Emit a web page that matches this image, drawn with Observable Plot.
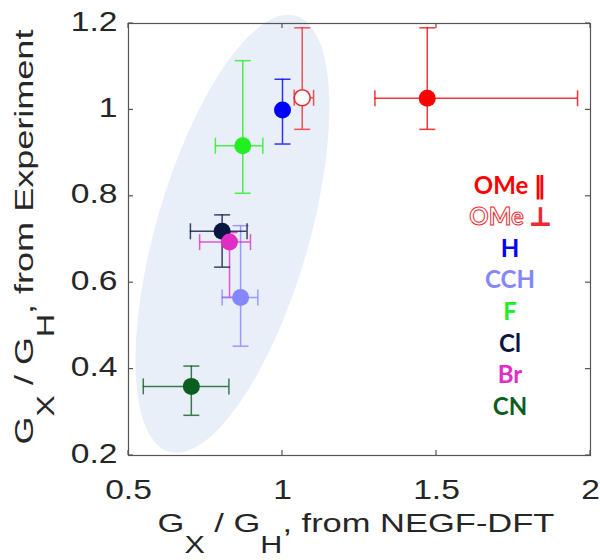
<!DOCTYPE html>
<html><head><meta charset="utf-8">
<script src="https://cdn.jsdelivr.net/npm/d3@7"></script>
<script src="https://cdn.jsdelivr.net/npm/@observablehq/plot@0.6"></script>
<style>body{margin:0;background:#fff}</style>
</head><body><div id="chart"></div>
<script>
// ---- data ----
const labels = ["OMe ∥", "OMe ⊥", "H", "CCH", "F", "Cl", "Br", "CN"];
const colors = ["#ff0000", "#ee2a30", "#0000ff", "#8585ff", "#22ee22", "#0c1540", "#e22cc6", "#0b5e1f"];
const filled = [true, false, true, true, true, true, true, true];
const xVal  = [1.470, 1.064, 1.000, 0.864, 0.871, 0.804, 0.828, 0.704];
const yVal  = [1.027, 1.028, 1.000, 0.566, 0.917, 0.719, 0.694, 0.360];
const xLow  = [1.300, 1.038, null, 0.804, 0.782, 0.701, 0.731, 0.548];
const xHigh = [1.958, 1.101, null, 0.920, 0.936, 0.885, 0.896, 0.826];
const yLow  = [0.955, 0.955, 0.921, 0.453, 0.807, 0.636, 0.566, 0.293];
const yHigh = [1.190, 1.190, 1.071, 0.732, 1.114, 0.757, 0.716, 0.407];
const xTicks = [0.5, 1, 1.5, 2];
const xTickLabels = ["0.5", "1", "1.5", "2"];
const yTicks = [0.2, 0.4, 0.6, 0.8, 1, 1.2];
const yTickLabels = ["0.2", "0.4", "0.6", "0.8", "1", "1.2"];
const ellipseCenter = [0.839, 0.712];

const rows = labels.map((l, i) => ({
  label: l, color: colors[i], filled: filled[i],
  x: xVal[i], y: yVal[i], xLow: xLow[i], xHigh: xHigh[i], yLow: yLow[i], yHigh: yHigh[i]
}));
const hRows = rows.filter(d => d.xLow != null);

const SVGNS = "http://www.w3.org/2000/svg";
const hCap = {draw(ctx, size) { const r = Math.sqrt(size / Math.PI); ctx.moveTo(-r, 0); ctx.lineTo(r, 0); }};
const vCap = {draw(ctx, size) { const r = Math.sqrt(size / Math.PI); ctx.moveTo(0, -r); ctx.lineTo(0, r); }};

function ellipseMark(index, scales) {
  const cx = scales.x(ellipseCenter[0]), cy = scales.y(ellipseCenter[1]);
  const e = document.createElementNS(SVGNS, "ellipse");
  e.setAttribute("cx", 0); e.setAttribute("cy", 0);
  e.setAttribute("rx", 76.4); e.setAttribute("ry", 227);
  e.setAttribute("transform", `translate(${cx},${cy}) rotate(16.2)`);
  e.setAttribute("fill", "#e9eff8");
  return e;
}

function inwardTicks(index, scales, values, dims) {
  const g = document.createElementNS(SVGNS, "g");
  const L = dims.marginLeft, R = dims.width - dims.marginRight;
  const T = dims.marginTop, B = dims.height - dims.marginBottom;
  const len = 5;
  const add = (x1, y1, x2, y2) => {
    const l = document.createElementNS(SVGNS, "line");
    l.setAttribute("x1", x1); l.setAttribute("y1", y1);
    l.setAttribute("x2", x2); l.setAttribute("y2", y2);
    l.setAttribute("stroke", "#555"); l.setAttribute("stroke-width", 1.2);
    g.appendChild(l);
  };
  xTicks.forEach(t => { const x = scales.x(t); add(x, B, x, B - len); add(x, T, x, T + len); });
  yTicks.forEach(t => { const y = scales.y(t); add(L, y, L + len, y); add(R, y, R - len, y); });
  return g;
}

const plot = Plot.plot({
  width: 600, height: 560,
  marginLeft: 128, marginRight: 10, marginTop: 23, marginBottom: 105,
  style: {fontFamily: "'Liberation Sans', Arial, sans-serif", color: "#262626", background: "white", overflow: "visible"},
  x: {domain: [0.5, 2]},
  y: {domain: [0.2, 1.2]},
  color: {type: "identity"},
  marks: [
    ellipseMark,
    Plot.frame({stroke: "#555", strokeWidth: 1.2}),
    inwardTicks,
    Plot.axisX(xTicks, {tickSize: 0, tickPadding: 43, fontSize: 28, label: null,
      tickFormat: d => xTickLabels[xTicks.indexOf(d)]}),
    Plot.axisY(yTicks, {tickSize: 0, tickPadding: 11, fontSize: 28, label: null,
      tickFormat: d => yTickLabels[yTicks.indexOf(d)]}),
    // vertical error bars
    Plot.ruleX(rows, {x: "x", y1: "yLow", y2: "yHigh", stroke: "color", strokeWidth: 1.5, strokeOpacity: 0.8}),
    Plot.dot(rows, {x: "x", y: "yLow", symbol: hCap, r: 8, stroke: "color", fill: "none", strokeWidth: 1.5, strokeOpacity: 0.8}),
    Plot.dot(rows, {x: "x", y: "yHigh", symbol: hCap, r: 8, stroke: "color", fill: "none", strokeWidth: 1.5, strokeOpacity: 0.8}),
    // horizontal error bars
    Plot.ruleY(hRows, {y: "y", x1: "xLow", x2: "xHigh", stroke: "color", strokeWidth: 1.5, strokeOpacity: 0.8}),
    Plot.dot(hRows, {x: "xLow", y: "y", symbol: vCap, r: 8, stroke: "color", fill: "none", strokeWidth: 1.5, strokeOpacity: 0.8}),
    Plot.dot(hRows, {x: "xHigh", y: "y", symbol: vCap, r: 8, stroke: "color", fill: "none", strokeWidth: 1.5, strokeOpacity: 0.8}),
    // markers
    Plot.dot(rows.filter(d => d.filled), {x: "x", y: "y", r: 8.5, fill: "color", stroke: "none"}),
    Plot.dot(rows.filter(d => !d.filled), {x: "x", y: "y", r: 8, fill: "white", stroke: "color", strokeWidth: 1.6})
  ]
});
document.getElementById("chart").appendChild(plot);

const svg = d3.select(plot);

// stretch tick labels horizontally (the source font is wide)
function stretch(sel, k, dyExtra) {
  sel.each(function () {
    const x = +this.getAttribute("x") || 0, y = (+this.getAttribute("y") || 0) + dyExtra;
    const tr = this.getAttribute("transform") || "";
    this.removeAttribute("x"); this.removeAttribute("y");
    this.setAttribute("transform", `${tr} translate(${x},${y}) scale(${k},1)`);
  });
}
stretch(svg.selectAll('g[aria-label="x-axis tick label"] text'), 1.2, 0);
stretch(svg.selectAll('g[aria-label="y-axis tick label"] text'), 1.2, 7);

// axis titles with subscripts
function axisTitle(tx, ty, rot, targetLen, tail) {
  const t = svg.append("text")
    .attr("text-anchor", "middle")
    .style("font-family", "'Liberation Sans', Arial, sans-serif")
    .style("font-size", "26px")
    .attr("fill", "#262626");
  t.append("tspan").text("G");
  t.append("tspan").attr("dy", 21).style("font-size", "23px").text("X");
  t.append("tspan").attr("dy", -21).text(" / G");
  t.append("tspan").attr("dy", 21).style("font-size", "23px").text("H");
  t.append("tspan").attr("dy", -21).text(tail);
  const len = t.node().getComputedTextLength();
  t.attr("transform", `translate(${tx},${ty}) rotate(${rot}) scale(${targetLen / len},1)`);
}
axisTitle(356, 532, 0, 397, ", from NEGF-DFT");
axisTitle(33, 237, -90, 415, ", from Experiment");

// in-plot labels
const legendY0 = 185, legendStep = 31.6;
labels.forEach((l, i) => {
  const t = svg.append("text")
    .attr("x", 510).attr("y", legendY0 + i * legendStep)
    .attr("dy", "0.36em")
    .attr("text-anchor", "middle")
    .style("font-family", "Lato, 'Open Sans', sans-serif")
    .style("font-weight", "bold")
    .style("font-size", "24px")
    .text(l);
  if (filled[i]) t.attr("fill", colors[i]);
  else t.attr("fill", "white").attr("stroke", colors[i]).attr("stroke-width", 1);
});
</script>
</body></html>
